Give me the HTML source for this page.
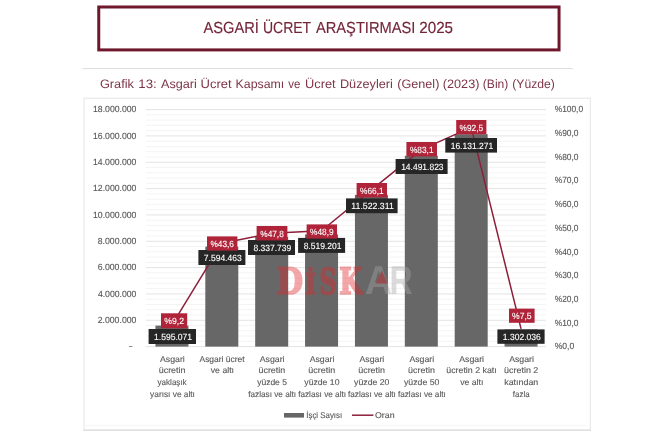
<!DOCTYPE html>
<html lang="tr"><head><meta charset="utf-8"><title>Asgari Ücret Araştırması 2025</title>
<style>
html,body{margin:0;padding:0;background:#fff;}
body{width:670px;height:436px;overflow:hidden;position:relative;font-family:"Liberation Sans",sans-serif;}
svg{position:absolute;left:0;top:0;filter:blur(0.4px);}
text{font-family:"Liberation Sans",sans-serif;text-rendering:geometricPrecision;}
.ax{fill:#585858;stroke:#585858;stroke-width:0.12px;}
.dl{fill:#fff;stroke:#fff;stroke-width:0.12px;}
.hd{fill:#752538;stroke:#752538;stroke-width:0.15px;}
.sb{fill:#7e3548;}
</style></head><body>
<svg width="670" height="436" viewBox="0 0 670 436">
<rect x="98.75" y="7.0" width="460.3" height="42.9" fill="#fff" stroke="#6f182c" stroke-width="3"/>
<text class="hd" y="33.1" font-size="16"><tspan x="203.57" textLength="55.38" lengthAdjust="spacingAndGlyphs">ASGARİ</tspan> <tspan x="262.92" textLength="47.99" lengthAdjust="spacingAndGlyphs">ÜCRET</tspan> <tspan x="315.97" textLength="99.38" lengthAdjust="spacingAndGlyphs">ARAŞTIRMASI</tspan> <tspan x="419.24" textLength="33.80" lengthAdjust="spacingAndGlyphs">2025</tspan></text>
<line x1="82.5" y1="68.6" x2="573" y2="68.6" stroke="#dcdcdc" stroke-width="1"/>
<text class="sb" y="87.8" font-size="12.3"><tspan x="99.96" textLength="34.02" lengthAdjust="spacingAndGlyphs">Grafik</tspan> <tspan x="138.39" textLength="18.42" lengthAdjust="spacingAndGlyphs">13:</tspan> <tspan x="160.98" textLength="35.88" lengthAdjust="spacingAndGlyphs">Asgari</tspan> <tspan x="200.60" textLength="31.10" lengthAdjust="spacingAndGlyphs">Ücret</tspan> <tspan x="235.59" textLength="48.58" lengthAdjust="spacingAndGlyphs">Kapsamı</tspan> <tspan x="288.36" textLength="12.15" lengthAdjust="spacingAndGlyphs">ve</tspan> <tspan x="305.01" textLength="30.68" lengthAdjust="spacingAndGlyphs">Ücret</tspan> <tspan x="339.96" textLength="52.90" lengthAdjust="spacingAndGlyphs">Düzeyleri</tspan> <tspan x="397.22" textLength="42.17" lengthAdjust="spacingAndGlyphs">(Genel)</tspan> <tspan x="442.82" textLength="36.57" lengthAdjust="spacingAndGlyphs">(2023)</tspan> <tspan x="482.85" textLength="25.50" lengthAdjust="spacingAndGlyphs">(Bin)</tspan> <tspan x="512.25" textLength="42.51" lengthAdjust="spacingAndGlyphs">(Yüzde)</tspan></text>
<rect x="84.1" y="98.2" width="506.3" height="332.2" fill="#fff" stroke="#e9e9e9" stroke-width="1.2"/>
<line x1="84" y1="425.6" x2="586" y2="425.6" stroke="#f6f6f6" stroke-width="1"/>
<line x1="83.5" y1="430.2" x2="591" y2="430.2" stroke="#dcdcdc" stroke-width="1.2"/>
<line x1="146.0" y1="346.60" x2="546.0" y2="346.60" stroke="#e3e3e3" stroke-width="1"/>
<line x1="146.0" y1="341.33" x2="546.0" y2="341.33" stroke="#f4f4f4" stroke-width="1"/>
<line x1="146.0" y1="336.07" x2="546.0" y2="336.07" stroke="#f4f4f4" stroke-width="1"/>
<line x1="146.0" y1="330.80" x2="546.0" y2="330.80" stroke="#f4f4f4" stroke-width="1"/>
<line x1="146.0" y1="325.53" x2="546.0" y2="325.53" stroke="#f4f4f4" stroke-width="1"/>
<line x1="146.0" y1="320.27" x2="546.0" y2="320.27" stroke="#e3e3e3" stroke-width="1"/>
<line x1="146.0" y1="315.00" x2="546.0" y2="315.00" stroke="#f4f4f4" stroke-width="1"/>
<line x1="146.0" y1="309.73" x2="546.0" y2="309.73" stroke="#f4f4f4" stroke-width="1"/>
<line x1="146.0" y1="304.47" x2="546.0" y2="304.47" stroke="#f4f4f4" stroke-width="1"/>
<line x1="146.0" y1="299.20" x2="546.0" y2="299.20" stroke="#f4f4f4" stroke-width="1"/>
<line x1="146.0" y1="293.93" x2="546.0" y2="293.93" stroke="#e3e3e3" stroke-width="1"/>
<line x1="146.0" y1="288.67" x2="546.0" y2="288.67" stroke="#f4f4f4" stroke-width="1"/>
<line x1="146.0" y1="283.40" x2="546.0" y2="283.40" stroke="#f4f4f4" stroke-width="1"/>
<line x1="146.0" y1="278.13" x2="546.0" y2="278.13" stroke="#f4f4f4" stroke-width="1"/>
<line x1="146.0" y1="272.87" x2="546.0" y2="272.87" stroke="#f4f4f4" stroke-width="1"/>
<line x1="146.0" y1="267.60" x2="546.0" y2="267.60" stroke="#e3e3e3" stroke-width="1"/>
<line x1="146.0" y1="262.33" x2="546.0" y2="262.33" stroke="#f4f4f4" stroke-width="1"/>
<line x1="146.0" y1="257.07" x2="546.0" y2="257.07" stroke="#f4f4f4" stroke-width="1"/>
<line x1="146.0" y1="251.80" x2="546.0" y2="251.80" stroke="#f4f4f4" stroke-width="1"/>
<line x1="146.0" y1="246.53" x2="546.0" y2="246.53" stroke="#f4f4f4" stroke-width="1"/>
<line x1="146.0" y1="241.27" x2="546.0" y2="241.27" stroke="#e3e3e3" stroke-width="1"/>
<line x1="146.0" y1="236.00" x2="546.0" y2="236.00" stroke="#f4f4f4" stroke-width="1"/>
<line x1="146.0" y1="230.73" x2="546.0" y2="230.73" stroke="#f4f4f4" stroke-width="1"/>
<line x1="146.0" y1="225.47" x2="546.0" y2="225.47" stroke="#f4f4f4" stroke-width="1"/>
<line x1="146.0" y1="220.20" x2="546.0" y2="220.20" stroke="#f4f4f4" stroke-width="1"/>
<line x1="146.0" y1="214.93" x2="546.0" y2="214.93" stroke="#e3e3e3" stroke-width="1"/>
<line x1="146.0" y1="209.67" x2="546.0" y2="209.67" stroke="#f4f4f4" stroke-width="1"/>
<line x1="146.0" y1="204.40" x2="546.0" y2="204.40" stroke="#f4f4f4" stroke-width="1"/>
<line x1="146.0" y1="199.13" x2="546.0" y2="199.13" stroke="#f4f4f4" stroke-width="1"/>
<line x1="146.0" y1="193.87" x2="546.0" y2="193.87" stroke="#f4f4f4" stroke-width="1"/>
<line x1="146.0" y1="188.60" x2="546.0" y2="188.60" stroke="#e3e3e3" stroke-width="1"/>
<line x1="146.0" y1="183.33" x2="546.0" y2="183.33" stroke="#f4f4f4" stroke-width="1"/>
<line x1="146.0" y1="178.07" x2="546.0" y2="178.07" stroke="#f4f4f4" stroke-width="1"/>
<line x1="146.0" y1="172.80" x2="546.0" y2="172.80" stroke="#f4f4f4" stroke-width="1"/>
<line x1="146.0" y1="167.53" x2="546.0" y2="167.53" stroke="#f4f4f4" stroke-width="1"/>
<line x1="146.0" y1="162.27" x2="546.0" y2="162.27" stroke="#e3e3e3" stroke-width="1"/>
<line x1="146.0" y1="157.00" x2="546.0" y2="157.00" stroke="#f4f4f4" stroke-width="1"/>
<line x1="146.0" y1="151.73" x2="546.0" y2="151.73" stroke="#f4f4f4" stroke-width="1"/>
<line x1="146.0" y1="146.47" x2="546.0" y2="146.47" stroke="#f4f4f4" stroke-width="1"/>
<line x1="146.0" y1="141.20" x2="546.0" y2="141.20" stroke="#f4f4f4" stroke-width="1"/>
<line x1="146.0" y1="135.93" x2="546.0" y2="135.93" stroke="#e3e3e3" stroke-width="1"/>
<line x1="146.0" y1="130.67" x2="546.0" y2="130.67" stroke="#f4f4f4" stroke-width="1"/>
<line x1="146.0" y1="125.40" x2="546.0" y2="125.40" stroke="#f4f4f4" stroke-width="1"/>
<line x1="146.0" y1="120.13" x2="546.0" y2="120.13" stroke="#f4f4f4" stroke-width="1"/>
<line x1="146.0" y1="114.87" x2="546.0" y2="114.87" stroke="#f4f4f4" stroke-width="1"/>
<line x1="146.0" y1="109.60" x2="546.0" y2="109.60" stroke="#e3e3e3" stroke-width="1"/>
<text x="128.62" y="349.40" font-size="8.9" textLength="4.36" lengthAdjust="spacingAndGlyphs" class="ax">-</text>
<text x="97.66" y="322.97" font-size="8.9" textLength="38.78" lengthAdjust="spacingAndGlyphs" class="ax">2.000.000</text>
<text x="97.90" y="296.63" font-size="8.9" textLength="38.54" lengthAdjust="spacingAndGlyphs" class="ax">4.000.000</text>
<text x="97.66" y="270.30" font-size="8.9" textLength="38.78" lengthAdjust="spacingAndGlyphs" class="ax">6.000.000</text>
<text x="97.72" y="243.97" font-size="8.9" textLength="38.72" lengthAdjust="spacingAndGlyphs" class="ax">8.000.000</text>
<text x="93.04" y="217.63" font-size="8.9" textLength="43.40" lengthAdjust="spacingAndGlyphs" class="ax">10.000.000</text>
<text x="93.04" y="191.30" font-size="8.9" textLength="43.40" lengthAdjust="spacingAndGlyphs" class="ax">12.000.000</text>
<text x="93.04" y="164.97" font-size="8.9" textLength="43.40" lengthAdjust="spacingAndGlyphs" class="ax">14.000.000</text>
<text x="93.04" y="138.63" font-size="8.9" textLength="43.40" lengthAdjust="spacingAndGlyphs" class="ax">16.000.000</text>
<text x="93.04" y="112.30" font-size="8.9" textLength="43.40" lengthAdjust="spacingAndGlyphs" class="ax">18.000.000</text>
<text x="554.69" y="349.30" font-size="8.9" textLength="19.54" lengthAdjust="spacingAndGlyphs" class="ax">%0,0</text>
<text x="554.70" y="325.60" font-size="8.9" textLength="23.83" lengthAdjust="spacingAndGlyphs" class="ax">%10,0</text>
<text x="554.70" y="301.90" font-size="8.9" textLength="23.83" lengthAdjust="spacingAndGlyphs" class="ax">%20,0</text>
<text x="554.70" y="278.20" font-size="8.9" textLength="23.83" lengthAdjust="spacingAndGlyphs" class="ax">%30,0</text>
<text x="554.70" y="254.50" font-size="8.9" textLength="23.83" lengthAdjust="spacingAndGlyphs" class="ax">%40,0</text>
<text x="554.70" y="230.80" font-size="8.9" textLength="23.83" lengthAdjust="spacingAndGlyphs" class="ax">%50,0</text>
<text x="554.70" y="207.10" font-size="8.9" textLength="23.83" lengthAdjust="spacingAndGlyphs" class="ax">%60,0</text>
<text x="554.70" y="183.40" font-size="8.9" textLength="23.83" lengthAdjust="spacingAndGlyphs" class="ax">%70,0</text>
<text x="554.70" y="159.70" font-size="8.9" textLength="23.83" lengthAdjust="spacingAndGlyphs" class="ax">%80,0</text>
<text x="554.70" y="136.00" font-size="8.9" textLength="23.83" lengthAdjust="spacingAndGlyphs" class="ax">%90,0</text>
<text x="554.70" y="112.30" font-size="8.9" textLength="28.43" lengthAdjust="spacingAndGlyphs" class="ax">%100,0</text>
<rect x="155.44" y="325.60" width="33.0" height="21.00" fill="#676767"/>
<rect x="205.31" y="246.61" width="33.0" height="99.99" fill="#676767"/>
<rect x="255.19" y="236.82" width="33.0" height="109.78" fill="#676767"/>
<rect x="305.06" y="234.43" width="33.0" height="112.17" fill="#676767"/>
<rect x="354.94" y="194.89" width="33.0" height="151.71" fill="#676767"/>
<rect x="404.81" y="155.79" width="33.0" height="190.81" fill="#676767"/>
<rect x="454.69" y="134.20" width="33.0" height="212.40" fill="#676767"/>
<rect x="504.56" y="329.46" width="33.0" height="17.14" fill="#676767"/>
<g opacity="0.40">
<text y="293.6" font-weight="bold" fill="#e4252b" stroke="#e4252b" stroke-width="1.7" stroke-linejoin="miter" style="font-family:'DejaVu Serif','Liberation Serif',serif"><tspan x="276.78" font-size="36.4" textLength="26.29" lengthAdjust="spacingAndGlyphs">D</tspan><tspan x="305.58" font-size="28.4" textLength="10.23" lengthAdjust="spacingAndGlyphs">İ</tspan><tspan x="319.43" font-size="35.6" textLength="17.20" lengthAdjust="spacingAndGlyphs">S</tspan><tspan x="339.15" font-size="36.4" textLength="23.23" lengthAdjust="spacingAndGlyphs">K</tspan></text>
<text y="294.4" font-weight="bold" fill="#a6a6a6"><tspan x="365.06" font-size="40.4" textLength="27.13" lengthAdjust="spacingAndGlyphs">A</tspan><tspan x="389.45" font-size="40.4" textLength="23.21" lengthAdjust="spacingAndGlyphs">R</tspan></text>
<polygon points="381.8,270.6 387.6,283.6 375.8,283.6" fill="#e4252b"/>
</g>
<polyline points="171.94,324.80 221.81,243.27 271.69,233.31 321.56,230.71 371.44,189.94 421.31,149.65 471.19,127.38 521.06,328.83" fill="none" stroke="#8c1f3b" stroke-width="1.5" stroke-linejoin="round"/>
<rect x="148.6" y="329.0" width="47.4" height="15.0" fill="#262626"/>
<text x="154.05" y="340.00" font-size="9" textLength="38.07" lengthAdjust="spacingAndGlyphs" class="dl">1.595.071</text>
<rect x="198.4" y="250.0" width="47.0" height="15.0" fill="#262626"/>
<text x="203.86" y="261.00" font-size="9" textLength="37.81" lengthAdjust="spacingAndGlyphs" class="dl">7.594.463</text>
<rect x="248.0" y="240.0" width="47.0" height="15.0" fill="#262626"/>
<text x="253.53" y="251.00" font-size="9" textLength="37.77" lengthAdjust="spacingAndGlyphs" class="dl">8.337.739</text>
<rect x="298.1" y="237.9" width="47.0" height="15.0" fill="#262626"/>
<text x="303.63" y="248.90" font-size="9" textLength="37.78" lengthAdjust="spacingAndGlyphs" class="dl">8.519.201</text>
<rect x="346.0" y="198.4" width="51.6" height="14.8" fill="#262626"/>
<text x="351.35" y="209.30" font-size="9" textLength="42.46" lengthAdjust="spacingAndGlyphs" class="dl">11.522.311</text>
<rect x="395.6" y="159.0" width="52.0" height="15.0" fill="#262626"/>
<text x="401.15" y="170.00" font-size="9" textLength="42.42" lengthAdjust="spacingAndGlyphs" class="dl">14.491.823</text>
<rect x="445.3" y="138.0" width="51.7" height="14.6" fill="#262626"/>
<text x="450.70" y="148.80" font-size="9" textLength="42.46" lengthAdjust="spacingAndGlyphs" class="dl">16.131.271</text>
<rect x="497.4" y="329.4" width="47.2" height="14.4" fill="#262626"/>
<text x="502.75" y="340.10" font-size="9" textLength="38.03" lengthAdjust="spacingAndGlyphs" class="dl">1.302.036</text>
<rect x="161.0" y="313.3" width="26.2" height="15.0" fill="#b0243a"/>
<text x="164.34" y="324.40" font-size="9" textLength="19.64" lengthAdjust="spacingAndGlyphs" class="dl">%9,2</text>
<rect x="207.0" y="236.4" width="30.4" height="14.2" fill="#b0243a"/>
<text x="210.51" y="247.10" font-size="9" textLength="23.46" lengthAdjust="spacingAndGlyphs" class="dl">%43,6</text>
<rect x="256.6" y="226.0" width="30.8" height="14.4" fill="#b0243a"/>
<text x="260.31" y="236.80" font-size="9" textLength="23.45" lengthAdjust="spacingAndGlyphs" class="dl">%47,8</text>
<rect x="306.6" y="224.4" width="30.4" height="14.2" fill="#b0243a"/>
<text x="310.10" y="235.10" font-size="9" textLength="23.49" lengthAdjust="spacingAndGlyphs" class="dl">%48,9</text>
<rect x="356.6" y="183.0" width="30.4" height="14.4" fill="#b0243a"/>
<text x="360.10" y="193.80" font-size="9" textLength="23.50" lengthAdjust="spacingAndGlyphs" class="dl">%66,1</text>
<rect x="406.4" y="142.0" width="30.6" height="14.4" fill="#b0243a"/>
<text x="410.00" y="152.80" font-size="9" textLength="23.50" lengthAdjust="spacingAndGlyphs" class="dl">%83,1</text>
<rect x="456.2" y="120.0" width="30.2" height="14.4" fill="#b0243a"/>
<text x="459.61" y="130.80" font-size="9" textLength="23.44" lengthAdjust="spacingAndGlyphs" class="dl">%92,5</text>
<rect x="509.0" y="308.6" width="25.6" height="14.2" fill="#b0243a"/>
<text x="512.04" y="319.30" font-size="9" textLength="19.57" lengthAdjust="spacingAndGlyphs" class="dl">%7,5</text>
<text class="ax" font-size="8.4"><tspan x="160.02" y="361.60" textLength="24.81" lengthAdjust="spacingAndGlyphs">Asgari</tspan> <tspan x="158.73" y="373.37" textLength="26.79" lengthAdjust="spacingAndGlyphs">ücretin</tspan> <tspan x="157.62" y="385.14" textLength="29.01" lengthAdjust="spacingAndGlyphs">yaklaşık</tspan> <tspan x="150.12" y="396.91" textLength="44.81" lengthAdjust="spacingAndGlyphs">yarısı ve altı</tspan></text>
<text class="ax" font-size="8.4"><tspan x="199.50" y="361.60" textLength="45.08" lengthAdjust="spacingAndGlyphs">Asgari ücret</tspan> <tspan x="210.78" y="373.37" textLength="23.26" lengthAdjust="spacingAndGlyphs">ve altı</tspan></text>
<text class="ax" font-size="8.4"><tspan x="259.77" y="361.60" textLength="24.81" lengthAdjust="spacingAndGlyphs">Asgari</tspan> <tspan x="258.48" y="373.37" textLength="26.79" lengthAdjust="spacingAndGlyphs">ücretin</tspan> <tspan x="257.17" y="385.14" textLength="29.78" lengthAdjust="spacingAndGlyphs">yüzde 5</tspan> <tspan x="248.27" y="396.91" textLength="47.90" lengthAdjust="spacingAndGlyphs">fazlası ve altı</tspan></text>
<text class="ax" font-size="8.4"><tspan x="309.65" y="361.60" textLength="24.81" lengthAdjust="spacingAndGlyphs">Asgari</tspan> <tspan x="308.36" y="373.37" textLength="26.79" lengthAdjust="spacingAndGlyphs">ücretin</tspan> <tspan x="304.34" y="385.14" textLength="35.16" lengthAdjust="spacingAndGlyphs">yüzde 10</tspan> <tspan x="298.15" y="396.91" textLength="47.90" lengthAdjust="spacingAndGlyphs">fazlası ve altı</tspan></text>
<text class="ax" font-size="8.4"><tspan x="359.52" y="361.60" textLength="24.81" lengthAdjust="spacingAndGlyphs">Asgari</tspan> <tspan x="358.23" y="373.37" textLength="26.79" lengthAdjust="spacingAndGlyphs">ücretin</tspan> <tspan x="354.12" y="385.14" textLength="35.36" lengthAdjust="spacingAndGlyphs">yüzde 20</tspan> <tspan x="348.02" y="396.91" textLength="47.90" lengthAdjust="spacingAndGlyphs">fazlası ve altı</tspan></text>
<text class="ax" font-size="8.4"><tspan x="409.40" y="361.60" textLength="24.81" lengthAdjust="spacingAndGlyphs">Asgari</tspan> <tspan x="408.11" y="373.37" textLength="26.79" lengthAdjust="spacingAndGlyphs">ücretin</tspan> <tspan x="403.99" y="385.14" textLength="35.36" lengthAdjust="spacingAndGlyphs">yüzde 50</tspan> <tspan x="397.90" y="396.91" textLength="47.90" lengthAdjust="spacingAndGlyphs">fazlası ve altı</tspan></text>
<text class="ax" font-size="8.4"><tspan x="459.27" y="361.60" textLength="24.81" lengthAdjust="spacingAndGlyphs">Asgari</tspan> <tspan x="446.29" y="373.37" textLength="50.44" lengthAdjust="spacingAndGlyphs">ücretin 2 katı</tspan> <tspan x="460.16" y="385.14" textLength="23.26" lengthAdjust="spacingAndGlyphs">ve altı</tspan></text>
<text class="ax" font-size="8.4"><tspan x="509.15" y="361.60" textLength="24.81" lengthAdjust="spacingAndGlyphs">Asgari</tspan> <tspan x="504.06" y="373.37" textLength="34.26" lengthAdjust="spacingAndGlyphs">ücretin 2</tspan> <tspan x="504.27" y="385.14" textLength="33.97" lengthAdjust="spacingAndGlyphs">katından</tspan> <tspan x="512.85" y="396.91" textLength="16.71" lengthAdjust="spacingAndGlyphs">fazla</tspan></text>
<rect x="284" y="413" width="20" height="4.6" fill="#676767"/>
<text x="306.27" y="418.20" font-size="8.4" textLength="35.88" lengthAdjust="spacingAndGlyphs" class="ax">İşçi Sayısı</text>
<line x1="352" y1="415.2" x2="373.4" y2="415.2" stroke="#8c1f3b" stroke-width="1.5"/>
<text x="374.98" y="418.20" font-size="8.4" textLength="19.59" lengthAdjust="spacingAndGlyphs" class="ax">Oran</text>
</svg></body></html>
